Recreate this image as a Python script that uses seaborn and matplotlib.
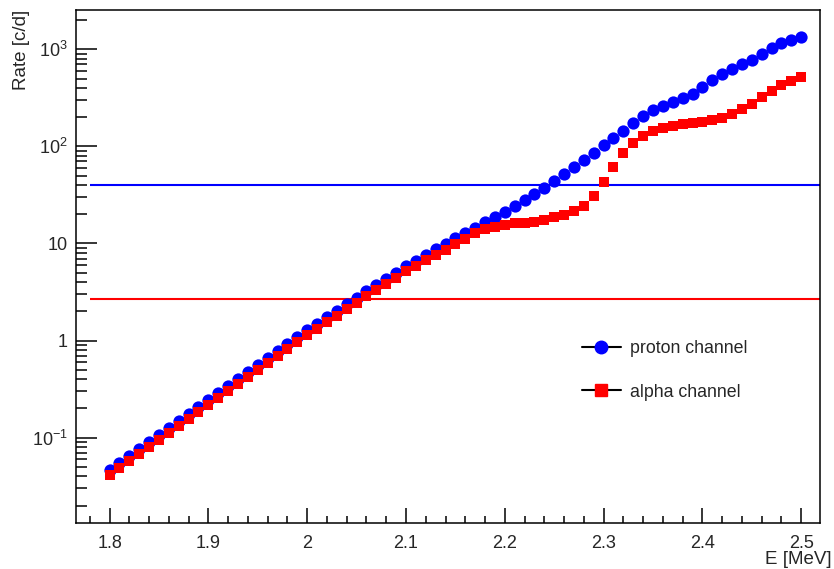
import numpy as np
import pandas as pd
import matplotlib
matplotlib.use("Agg")
import matplotlib.pyplot as plt
import matplotlib.ticker as mticker
from matplotlib.lines import Line2D
import seaborn as sns

# energy grid, 1.80 .. 2.50 MeV in 0.01 steps
energy = [round(1.80 + 0.01 * i, 2) for i in range(71)]

proton_rate = [
    0.0460, 0.0543, 0.0642, 0.0757, 0.0894, 0.1056, 0.1247, 0.1472, 0.1738, 0.2053,
    0.2424, 0.2862, 0.3379, 0.3990, 0.4711, 0.5563, 0.6569, 0.7755, 0.9158, 1.081,
    1.277, 1.490, 1.739, 2.029, 2.367, 2.762, 3.223, 3.717, 4.336, 5.023,
    5.834, 6.646, 7.574, 8.673, 9.95, 11.26, 12.83, 14.55, 16.58, 18.67,
    21.17, 24.24, 27.95, 32.00, 37.17, 43.56, 51.44, 61.16, 72.23, 85.90,
    102.4, 121.8, 144.8, 172.7, 203.8, 235.0, 260.3, 284.1, 312.5, 346.0,
    405.7, 482.5, 556.3, 626.6, 700.2, 775.6, 900.6, 1038, 1161, 1238,
    1339,
]

alpha_rate = [
    0.0409, 0.0482, 0.0570, 0.0672, 0.0794, 0.0938, 0.1108, 0.1307, 0.1544, 0.1823,
    0.2153, 0.2542, 0.3001, 0.3544, 0.4184, 0.4941, 0.5834, 0.6888, 0.8134, 0.960,
    1.134, 1.323, 1.545, 1.802, 2.102, 2.453, 2.863, 3.301, 3.851, 4.461,
    5.182, 5.903, 6.727, 7.55, 8.63, 9.83, 11.20, 12.68, 13.94, 14.83,
    15.55, 16.08, 16.31, 16.70, 17.39, 18.54, 19.72, 21.53, 24.24, 30.95,
    43.15, 61.6, 85.9, 107.4, 126.8, 142.8, 154.4, 161.9, 168.6, 172.7,
    178.1, 186.7, 197.2, 215.3, 240.6, 272.9, 320.0, 374.3, 425.5, 471.2,
    521.9,
]

proton_limit = 40.5
alpha_limit = 2.65

y_ticks = [0.1, 1, 10, 100, 1000]
y_tick_labels = [r"$10^{-1}$", "1", "10", r"$10^{2}$", r"$10^{3}$"]

sns.set_style("ticks")
plt.rcParams["font.family"] = ["Liberation Sans", "DejaVu Sans"]
plt.rcParams["mathtext.fontset"] = "custom"
plt.rcParams["mathtext.rm"] = "Liberation Sans"
plt.rcParams["mathtext.it"] = "Liberation Sans:italic"

df_p = pd.DataFrame({"E": energy, "rate": proton_rate})
df_a = pd.DataFrame({"E": energy, "rate": alpha_rate})

fig = plt.figure(figsize=(8.34, 5.69), dpi=100)
ax = fig.add_axes([0.0911, 0.0808, 0.8921, 0.9016])

ax.hlines(proton_limit, 1.78, 2.52, color="#0000ff", lw=1.5, zorder=2)
ax.hlines(alpha_limit, 1.78, 2.52, color="#ff0000", lw=1.5, zorder=2)

sns.scatterplot(data=df_p, x="E", y="rate", marker="o", color="#0000ff",
                s=78, linewidth=0, ax=ax, zorder=3)
sns.scatterplot(data=df_a, x="E", y="rate", marker="s", color="#ff0000",
                s=62, linewidth=0, ax=ax, zorder=4)

ax.set_yscale("log")
ax.set_xlim(1.766, 2.519)
ax.set_ylim(0.0132, 2540)

ax.yaxis.set_major_locator(mticker.FixedLocator(y_ticks))
ax.yaxis.set_major_formatter(mticker.FixedFormatter(y_tick_labels))
ax.yaxis.set_minor_locator(mticker.LogLocator(base=10, subs=np.arange(2, 10)))
ax.yaxis.set_minor_formatter(mticker.NullFormatter())
ax.xaxis.set_major_locator(mticker.MultipleLocator(0.1))
ax.xaxis.set_minor_locator(mticker.MultipleLocator(0.02))
ax.xaxis.set_major_formatter(mticker.FuncFormatter(lambda v, p: f"{v:g}"))

ax.tick_params(axis="both", which="both", direction="in", top=False, right=False,
               width=1.1, color="black", labelsize=13)
ax.tick_params(axis="y", which="major", length=15, pad=6)
ax.tick_params(axis="y", which="minor", length=8)
ax.tick_params(axis="x", which="major", length=11, pad=8.5)
ax.tick_params(axis="x", which="minor", length=5)
for sp in ax.spines.values():
    sp.set_linewidth(1.1)
    sp.set_color("black")

ax.set_xlabel("E [MeV]", loc="right", fontsize=13.5)
ax.set_ylabel("Rate [c/d]", loc="top", fontsize=13.5)
ax.xaxis.set_label_coords(1.016, -0.055)
ax.yaxis.set_label_coords(-0.062, 1.0)

handles = [
    Line2D([], [], color="black", lw=1.5, marker="o", markersize=9,
           markerfacecolor="#0000ff", markeredgecolor="#0000ff"),
    Line2D([], [], color="black", lw=1.5, marker="s", markersize=8,
           markerfacecolor="#ff0000", markeredgecolor="#ff0000"),
]
ax.legend(handles, ["proton channel", "alpha channel"], loc="upper left",
          bbox_to_anchor=(0.680, 0.357), frameon=False, fontsize=12.8,
          handlelength=2.2, handletextpad=0.5, labelspacing=1.5,
          borderpad=0, borderaxespad=0)

fig.savefig("out.png", dpi=100)
